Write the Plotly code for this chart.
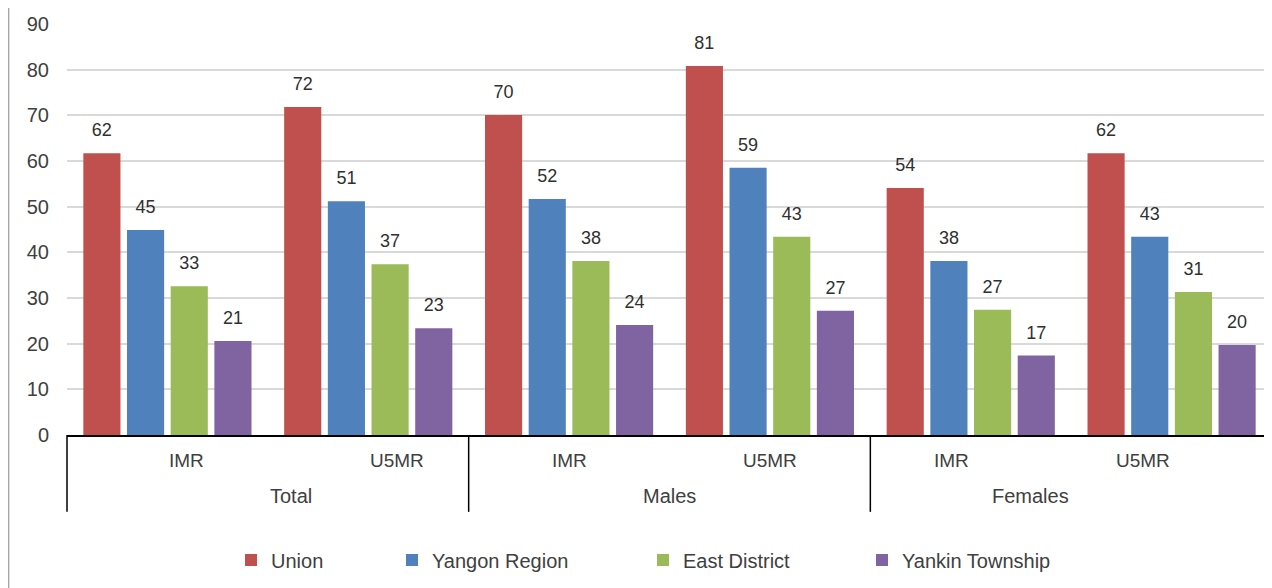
import plotly.graph_objects as go

groups = ["Total", "Total", "Males", "Males", "Females", "Females"]
indicators = ["IMR", "U5MR", "IMR", "U5MR", "IMR", "U5MR"]
group_names = ["Total", "Males", "Females"]

union = [61.7, 71.8, 70.1, 80.8, 54.1, 61.7]
yangon = [44.9, 51.2, 51.7, 58.5, 38.1, 43.4]
east = [32.6, 37.4, 38.1, 43.4, 27.4, 31.3]
yankin = [20.6, 23.4, 24.1, 27.2, 17.4, 19.7]

series = [
    ("Union", union, "#C0504D"),
    ("Yangon Region", yangon, "#4F81BD"),
    ("East District", east, "#9BBB59"),
    ("Yankin Township", yankin, "#8064A2"),
]
# legend text left positions (px) and layout constants
legend_text_px = [267, 428, 679, 898]

W, H = 1264, 580
ML, MT, MB = 59, 16, 153
plot_left_px = 8 + ML
plot_w = W - ML

font_family = "Liberation Sans, Arial, sans-serif"
text_col = "#404040"
fig = go.Figure()
legend_ids = ["legend", "legend2", "legend3", "legend4"]
for (name, vals, col), lid in zip(series, legend_ids):
    fig.add_trace(go.Bar(
        x=[groups, indicators], y=vals, name=name,
        marker=dict(color=col, line=dict(width=0)),
        hoverinfo="skip", legend=lid,
    ))
for name, vals, col in series:
    fig.add_trace(go.Scatter(
        x=[groups, indicators], y=vals, name=name + " labels",
        mode="markers+text", marker=dict(size=18, opacity=0),
        text=vals, texttemplate="%{y:.0f}", textposition="top center",
        textfont=dict(size=18, color="#303030", family=font_family),
        showlegend=False, hoverinfo="skip", cliponaxis=False,
    ))

legend_layout = {}
for lid, tx in zip(legend_ids, legend_text_px):
    legend_layout[lid] = dict(
        orientation="h", x=(tx - 36 - plot_left_px) / plot_w, xanchor="left",
        y=-0.304, yanchor="middle", bgcolor="rgba(0,0,0,0)",
        font=dict(size=20, color=text_col, family=font_family),
    )

n_cat = len(indicators)
fig.update_layout(
    width=W, height=H,
    margin=dict(l=ML, r=0, t=MT, b=MB),
    paper_bgcolor="white", plot_bgcolor="white",
    barmode="group", bargap=0.13, bargroupgap=0.15,
    scattermode="group", scattergap=0.13,
    font=dict(family=font_family, color=text_col, size=20),
    showlegend=True,
    **legend_layout,
)
fig.update_yaxes(range=[0, 90], dtick=10, showgrid=True, gridcolor="#D9D9D9", gridwidth=1.5,
                 zeroline=False, showline=False, ticks="", ticklabelstandoff=17,
                 tickfont=dict(size=20, color=text_col), automargin=False)
fig.update_xaxes(showline=True, linecolor="black", linewidth=1.5, showdividers=False,
                 showticklabels=False, ticks="", automargin=False)

# category labels (sub level)
for i, lab in enumerate(indicators):
    fig.add_annotation(x=(i + 0.5) / n_cat, y=-0.063, xref="paper", yref="paper",
                       text=lab, showarrow=False, yanchor="middle",
                       font=dict(size=19, color=text_col))
# group labels and dividers
per_group = n_cat // len(group_names)
for k, g in enumerate(group_names):
    fig.add_annotation(x=(k * per_group + per_group / 2) / n_cat, y=-0.148, xref="paper", yref="paper",
                       text=g, showarrow=False, yanchor="middle",
                       font=dict(size=20, color=text_col))
    xb = k * per_group / n_cat
    fig.add_shape(type="line", xref="paper", yref="paper", x0=xb, x1=xb, y0=0, y1=-0.187,
                  line=dict(color="black", width=1.5))

fig.add_shape(type="line", xref="paper", yref="paper", x0=-ML / plot_w + 0.0005, x1=-ML / plot_w + 0.0005,
              y0=-0.4, y1=1.07, line=dict(color="#A6A6A6", width=1.5))
fig.write_html("out.html")
